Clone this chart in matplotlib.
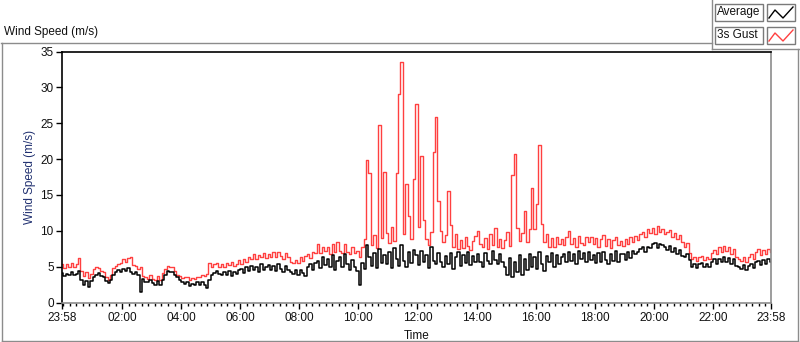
import numpy as np
import matplotlib
matplotlib.use("Agg")
import matplotlib.pyplot as plt
from matplotlib.patches import Rectangle

plt.rcParams['font.family'] = ['Liberation Sans', 'DejaVu Sans']

# 5-minute samples, first one at 23:58 of the previous day
start_hour = -2 / 60
step_min = 5

# average wind speed (m/s), 12 values per hour
average = [
    4.1, 3.7, 4.0, 3.8, 4.3, 3.9, 4.0, 4.4, 3.1, 2.5, 3.0, 2.2,
    3.0, 3.6, 3.9, 4.1, 3.7, 3.5, 3.0, 2.7, 3.1, 3.8, 4.3, 4.5,
    4.3, 4.7, 4.4, 4.8, 4.3, 4.0, 4.3, 3.8, 1.4, 3.3, 2.9, 2.8,
    3.2, 2.7, 2.5, 3.0, 2.4, 3.1, 3.8, 4.4, 4.3, 4.2, 3.8, 3.5,
    3.1, 2.8, 2.6, 2.8, 2.3, 2.6, 2.4, 2.8, 2.4, 2.9, 2.5, 2.0,
    3.1, 3.9, 4.1, 4.4, 4.0, 3.9, 4.3, 3.9, 4.4, 3.7, 4.3, 4.0,
    4.5, 4.7, 4.1, 4.9, 4.4, 5.1, 4.5, 5.0, 4.3, 5.3, 4.6, 5.0,
    5.2, 4.5, 5.1, 4.4, 5.3, 4.7, 4.3, 5.1, 4.6, 4.2, 4.0, 4.5,
    3.9, 4.6, 4.1, 3.7, 5.0, 5.3, 4.5, 5.5, 5.8, 4.8, 6.3, 5.2,
    6.0, 5.0, 6.6, 4.6, 5.8, 6.3, 4.9, 6.7, 5.3, 4.5, 5.9, 5.0,
    4.4, 2.4, 5.5, 4.7, 8.0, 6.3, 5.1, 6.9, 4.8, 7.4, 5.5, 6.6,
    5.3, 7.1, 4.8, 7.6, 6.0, 5.1, 8.0, 5.8, 4.9, 7.0, 5.5, 7.3,
    6.6, 5.2, 7.2, 5.6, 6.6, 4.8, 7.8, 5.8, 5.3, 6.9, 5.7, 5.0,
    6.5, 5.4, 6.9, 4.7, 6.3, 7.0, 5.1, 6.6, 5.5, 7.1, 5.2, 6.5,
    5.6, 6.8, 5.7, 5.0, 6.9, 5.8, 5.3, 7.2, 5.9, 5.4, 6.7, 5.7,
    5.0, 3.9, 6.2, 3.5, 5.7, 4.3, 6.6, 3.8, 6.0, 4.6, 6.8, 5.0,
    6.4, 4.7, 7.0, 5.3, 4.4, 6.5, 5.6, 6.9, 5.0, 6.6, 5.4, 6.3,
    6.7, 5.6, 7.0, 5.8, 6.8, 5.4, 7.2, 6.0, 6.9, 5.7, 7.1, 5.9,
    6.6, 5.5, 6.9, 5.7, 7.1, 5.9, 5.4, 6.8, 5.8, 7.2, 5.6, 6.7,
    6.8, 5.9, 7.0, 6.2, 7.2, 6.8, 7.1, 7.4, 7.7, 7.1, 7.8, 7.6,
    8.1, 8.3, 7.6, 8.2, 8.0, 7.8, 7.3, 7.9, 7.0, 7.6, 6.7, 7.3,
    6.5, 6.3, 6.7, 5.9, 4.9, 5.4, 4.8, 5.3, 5.5, 4.9, 5.4, 5.0,
    5.7, 6.0, 5.3, 6.1, 5.6, 6.3, 5.7, 6.2, 5.4, 6.0, 5.1, 4.9,
    4.7, 5.2, 4.5, 5.1, 5.4, 4.8, 5.6, 5.8, 5.2, 5.9, 5.3, 6.0,
    5.6,
]

# 3 second gust (m/s)
gust = [
    5.3, 4.8, 5.4, 4.9, 5.5, 5.0, 5.4, 6.2, 4.4, 3.7, 4.3, 3.4,
    4.0, 4.7, 4.9, 4.8, 4.4, 4.2, 3.5, 3.2, 3.9, 4.8, 5.1, 5.3,
    5.5, 6.1, 5.7, 6.2, 6.3, 5.2, 5.1, 4.7, 4.9, 3.7, 3.6, 3.3,
    3.8, 3.3, 3.2, 3.7, 3.2, 4.1, 4.7, 5.1, 5.0, 4.9, 4.4, 3.9,
    3.7, 3.4, 3.5, 3.6, 3.1, 3.4, 3.3, 3.6, 3.5, 3.9, 3.7, 4.0,
    5.5, 5.0, 5.3, 5.5, 5.0, 5.4, 5.0, 5.5, 5.2, 5.7, 5.1, 5.4,
    5.9, 5.4, 6.1, 5.6, 6.4, 6.0, 6.7, 6.1, 6.6, 6.3, 6.9, 6.2,
    6.8, 6.3, 7.0, 6.4, 7.1, 6.5, 6.1, 6.9, 6.4, 5.6, 5.5, 5.9,
    5.5, 6.3, 5.8, 6.5, 6.7, 6.2, 7.0, 6.9, 8.2, 6.9, 7.8, 7.2,
    7.7, 6.8, 8.1, 7.0, 8.4, 7.2, 6.9, 8.2, 7.1, 6.7, 7.7, 6.9,
    7.2, 6.4, 7.8, 8.8, 19.9, 18.0, 8.0, 9.4, 7.6, 24.7, 9.0, 18.2,
    9.7, 8.3, 10.5, 8.6, 18.0, 29.1, 33.5, 9.5, 16.5, 12.0, 8.8, 17.2,
    27.7, 10.5, 20.4, 11.5, 8.8, 8.0, 9.8, 21.0, 25.8, 14.1, 10.0, 8.4,
    9.4, 15.6, 10.8, 7.8, 9.6, 7.4, 8.7, 7.6, 9.2, 7.9, 7.3, 8.6,
    9.3, 10.0, 8.2, 7.7, 9.0, 7.4, 9.6, 8.0, 10.4, 7.8, 8.9, 7.6,
    8.7, 9.8, 7.9, 17.8, 20.7, 10.4, 8.6, 9.7, 12.8, 8.5, 10.3, 15.9,
    10.2, 13.7, 21.9, 11.0, 8.4, 9.5, 7.8, 9.0, 7.7, 9.2, 8.1, 8.9,
    8.0, 9.1, 10.0, 8.2, 9.0, 7.7, 9.3, 8.3, 8.0, 9.2, 8.4, 9.1,
    8.1, 9.0, 7.7, 8.8, 9.4, 7.9, 8.9, 7.6, 8.7, 9.2, 8.0, 8.6,
    7.9, 8.8, 8.1, 9.1, 8.4, 9.3, 8.7, 9.6, 9.9, 9.2, 10.3, 9.7,
    10.4, 9.6, 10.6, 9.8, 10.3, 9.5, 9.9, 10.1, 9.1, 9.7, 8.8, 9.4,
    8.5, 7.8, 8.3, 6.9, 6.0, 6.4, 5.8, 6.3, 6.5, 5.9, 6.4, 6.0,
    6.9, 7.3, 6.8, 7.7, 7.0, 7.9, 7.2, 7.8, 6.8, 7.5, 6.3, 6.1,
    5.8, 6.4, 5.7, 6.3, 6.7, 6.0, 7.1, 7.4, 6.6, 7.3, 6.7, 7.5,
    7.0,
]

tick_hours = [start_hour, 2, 4, 6, 8, 10, 12, 14, 16, 18, 20, 22, 24 + start_hour]
tick_labels = ["23:58", "02:00", "04:00", "06:00", "08:00", "10:00", "12:00",
               "14:00", "16:00", "18:00", "20:00", "22:00", "23:58"]

hours = start_hour + np.arange(len(average)) * step_min / 60

W, H = 800, 342
fig = plt.figure(figsize=(W / 100, H / 100), dpi=100)

# background frame (pixel coordinates)
bg = fig.add_axes([0, 0, 1, 1], zorder=0)
bg.set_xlim(0, W)
bg.set_ylim(H, 0)
bg.axis('off')
grey = '#8c8c8c'
bg.plot([1, 712], [42.5, 42.5], color=grey, lw=1)
bg.plot([712, 712], [0, 49], color=grey, lw=1)
bg.plot([712, 800], [49, 49], color=grey, lw=1)
bg.plot([1.5, 1.5], [42.5, 341], color=grey, lw=1)
bg.plot([1.5, 798], [340.5, 340.5], color=grey, lw=1)
bg.plot([797.5, 797.5], [49, 341], color=grey, lw=1)
bg.text(4, 32, "Wind Speed (m/s)", fontsize=8.5, va='center', ha='left', color='#111111')

# legend boxes
legend_names = ["Average", "3s Gust"]
legend_colors = ['black', '#ff4040']
for k, (name, col) in enumerate(zip(legend_names, legend_colors)):
    y0 = 4 + k * 23
    bg.add_patch(Rectangle((715, y0), 48, 17, fill=True, facecolor='white',
                           edgecolor='#7a7a7a', lw=1))
    bg.add_patch(Rectangle((767, y0), 28, 17, fill=True, facecolor='white',
                           edgecolor='#7a7a7a', lw=1))
    bg.text(717, y0 + 8.5, name, fontsize=8.5, va='center', ha='left', color='#111111')
    bg.plot([769, 775, 783, 793], [y0 + 14, y0 + 6, y0 + 14, y0 + 3], color=col, lw=1)

# main plot
ax = fig.add_axes([62 / W, 1 - 302.5 / H, 709 / W, 251 / H], zorder=1)
ax.plot(hours, gust, color='#ff4040', lw=1, drawstyle='steps-mid')
ax.plot(hours, average, color='black', lw=1.1, drawstyle='steps-mid')

ax.set_xlim(start_hour, 24 + start_hour)
ax.set_ylim(0, 35)
ax.set_yticks(range(0, 36, 5))
ax.set_xticks(tick_hours)
ax.set_xticklabels(tick_labels)
ax.set_xticks(np.arange(0, 24, 2 / 9), minor=True)
ax.tick_params(axis='both', which='major', labelsize=8.5, length=4, width=1,
               color='black', labelcolor='#111111', pad=2)
ax.tick_params(axis='x', which='minor', length=2.5, width=1, color='black')
ax.tick_params(axis='x', which='major', pad=3)

ax.spines['top'].set_color('black')
ax.spines['left'].set_color('black')
ax.spines['right'].set_color(grey)
ax.spines['bottom'].set_color(grey)
for s in ax.spines.values():
    s.set_linewidth(1.2)

ax.set_xlabel("Time", fontsize=8.5, color='#111111', labelpad=4)
ax.set_ylabel("Wind Speed (m/s)", fontsize=8.5, color='#203070', labelpad=3)

fig.savefig("out.png", dpi=100)
